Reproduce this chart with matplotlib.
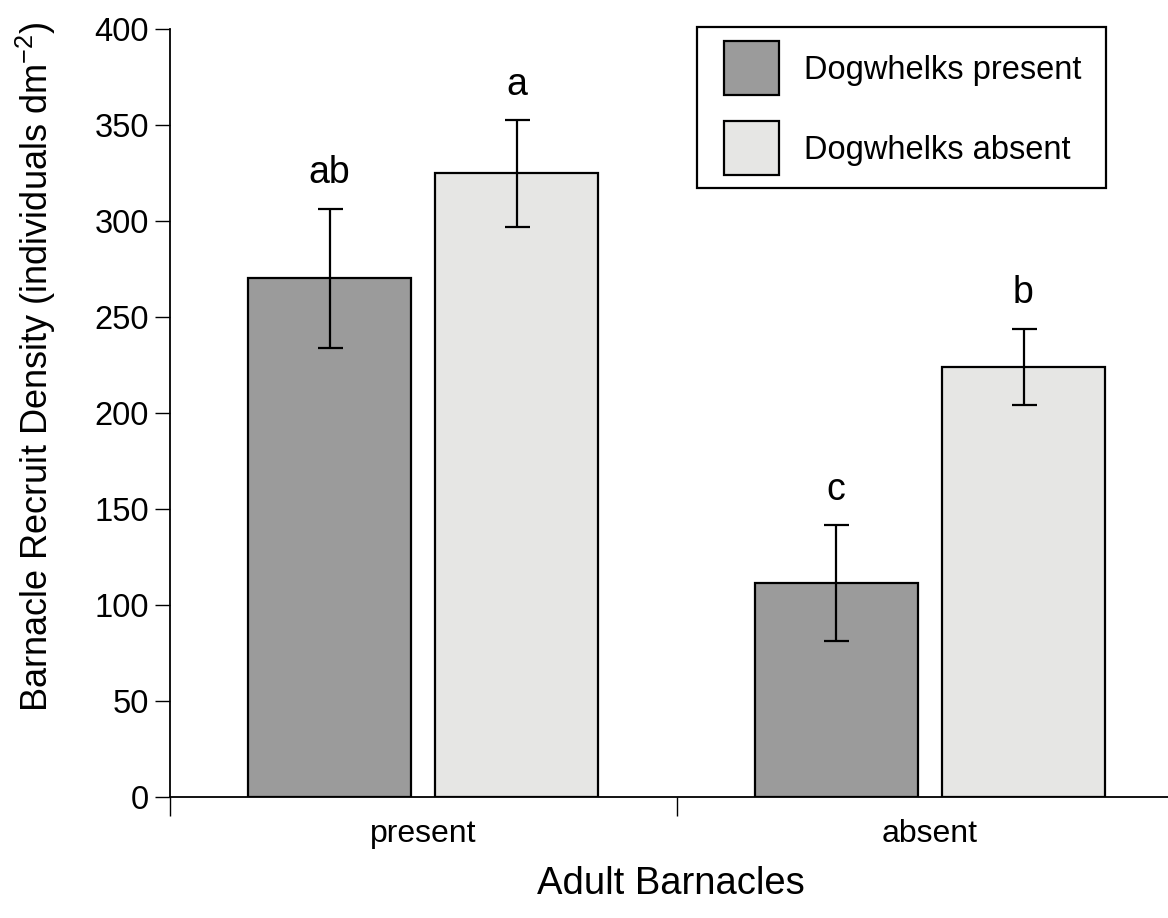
import matplotlib
matplotlib.use("Agg")
import matplotlib.pyplot as plt
from matplotlib.patches import Patch, Rectangle

plt.rcParams['font.family'] = ['Liberation Sans', 'DejaVu Sans']
plt.rcParams['mathtext.fontset'] = 'custom'
plt.rcParams['mathtext.rm'] = 'Liberation Sans'

categories = ["present", "absent"]
series_names = ["Dogwhelks present", "Dogwhelks absent"]
means_dw_present = [270.5, 111.5]
means_dw_absent = [325.0, 224.0]
err_low_dw_present = [234.0, 81.0]
err_high_dw_present = [306.5, 141.5]
err_low_dw_absent = [297.0, 204.0]
err_high_dw_absent = [352.5, 244.0]
letters_dw_present = ["ab", "c"]
letters_dw_absent = ["a", "b"]
y_ticks = [0, 50, 100, 150, 200, 250, 300, 350, 400]

colors = ["#9b9b9b", "#e6e6e4"]

fig = plt.figure(figsize=(11.68, 9.18), dpi=100)
ax = fig.add_axes([0.1455, 0.1318, 0.857, 0.8366])

width = 0.322
offset = 0.185
centers = [0.5 + i for i in range(len(categories))]

series = [
    (means_dw_present, err_low_dw_present, err_high_dw_present, letters_dw_present, -offset),
    (means_dw_absent, err_low_dw_absent, err_high_dw_absent, letters_dw_absent, offset),
]

for k, (means, lo, hi, letters, off) in enumerate(series):
    xs = [c + off for c in centers]
    ax.bar(xs, means, width=width, color=colors[k], edgecolor="black",
           linewidth=1.6, zorder=2)
    yerr = [[m - l for m, l in zip(means, lo)], [h - m for m, h in zip(means, hi)]]
    ax.errorbar(xs, means, yerr=yerr, fmt="none", ecolor="black",
                elinewidth=1.6, capsize=9, capthick=1.6, zorder=3)
    for x, h, t in zip(xs, hi, letters):
        ax.text(x, h + 9, t, ha="center", va="bottom", fontsize=27, color="black")

ax.set_xlim(0, 1.976)
ax.set_ylim(0, 400)
ax.spines["top"].set_visible(False)
ax.spines["right"].set_visible(False)
ax.spines["left"].set_linewidth(1.3)
ax.spines["bottom"].set_linewidth(1.3)

ax.set_yticks(y_ticks)
ax.set_yticklabels([str(v) for v in y_ticks], fontsize=23.5)
ax.tick_params(axis="y", direction="out", length=11, width=1.0, pad=4)

# boundary ticks on x axis, labels at category centres
ax.set_xticks([0, 1])
ax.set_xticklabels(["", ""])
ax.tick_params(axis="x", direction="out", length=14, width=1.0)
ax.set_xticks(centers, minor=True)
ax.set_xticklabels(categories, minor=True, fontsize=23)
ax.tick_params(axis="x", which="minor", length=0, pad=16)

ax.set_xlabel("Adult Barnacles", fontsize=27.5, labelpad=12)
ax.set_ylabel("Barnacle Recruit Density (individuals dm$^{\\mathrm{-2}}$)", fontsize=26)
ax.yaxis.set_label_coords(-0.112, 0.56)

# legend: entries placed without their own frame, frame drawn as a box
handles = [Patch(facecolor=colors[i], edgecolor="black", linewidth=1.6) for i in range(2)]
leg = ax.legend(handles, series_names, loc="upper left", bbox_to_anchor=(0.554, 0.984),
                fontsize=23.5, frameon=False,
                handlelength=1.66, handleheight=2.17, handletextpad=0.77,
                labelspacing=0.8, borderpad=0.0, borderaxespad=0.0)
ax.add_patch(Rectangle((0.527, 0.793), 0.935 - 0.527, 1.0026 - 0.793,
                       transform=ax.transAxes, fill=False, edgecolor="black",
                       linewidth=1.6, clip_on=False, zorder=5))

fig.savefig("out.png", dpi=100)
